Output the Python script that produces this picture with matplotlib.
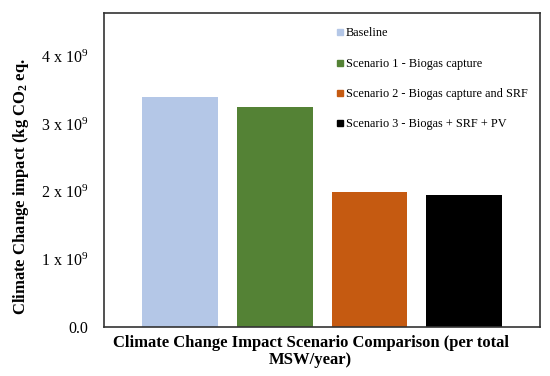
import matplotlib
matplotlib.use("Agg")
import matplotlib.pyplot as plt
from matplotlib.lines import Line2D

plt.rcParams['font.family'] = ['Liberation Serif', 'DejaVu Serif']
plt.rcParams['mathtext.fontset'] = 'custom'
plt.rcParams['mathtext.rm'] = 'Liberation Serif'
plt.rcParams['mathtext.it'] = 'Liberation Serif:italic'
plt.rcParams['mathtext.bf'] = 'Liberation Serif:bold'

scenarios = ["Baseline", "Scenario 1 - Biogas capture",
             "Scenario 2 - Biogas capture and SRF", "Scenario 3 - Biogas + SRF + PV"]
values = [3.41e9, 3.25e9, 2.0e9, 1.95e9]
colors = ["#B4C7E7", "#548235", "#C55A11", "#000000"]
yticks = [0, 1e9, 2e9, 3e9, 4e9]
yticklabels = ["0.0", "1 x 10$^{9}$", "2 x 10$^{9}$", "3 x 10$^{9}$", "4 x 10$^{9}$"]

fig = plt.figure(figsize=(5.5, 3.76), dpi=100)
ax = fig.add_axes([0.189, 0.1316, 0.793, 0.834])

x = list(range(len(values)))
ax.bar(x, values, width=0.8, color=colors)
ax.set_xlim(-0.8, 3.8)
ax.set_ylim(0, 4.65e9)
ax.set_xticks([])
ax.set_yticks(yticks)
ax.set_yticklabels(yticklabels, fontsize=11.5)
ax.tick_params(axis='y', length=0, pad=11)
for s in ax.spines.values():
    s.set_color('#333333')
    s.set_linewidth(1.2)

handles = [Line2D([], [], marker='s', linestyle='none', markersize=5,
                  markerfacecolor=c, markeredgecolor=c) for c in colors]
fig.legend(handles, scenarios, loc='upper left', bbox_to_anchor=(0.603, 0.94),
           frameon=False, fontsize=8.8, handlelength=0.6, handletextpad=0.15,
           labelspacing=1.5, borderaxespad=0)

fig.text(0.565, 0.108, "Climate Change Impact Scenario Comparison (per total\nMSW/year)",
         ha='center', va='top', fontsize=12, fontweight='bold', linespacing=1.05)
fig.text(0.038, 0.505, r"Climate Change impact (kg CO$_\mathbf{2}$ eq.",
         rotation=90, ha='center', va='center', fontsize=12, fontweight='bold')

fig.savefig("out.png", dpi=100)
